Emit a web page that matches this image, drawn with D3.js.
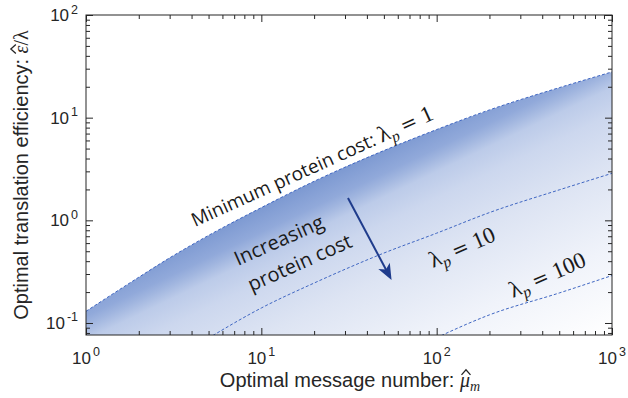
<!DOCTYPE html>
<html><head><meta charset="utf-8">
<script src="https://cdn.jsdelivr.net/npm/d3@7"></script>
<style>
html,body{margin:0;padding:0;background:#fff;}
svg{display:block;}
</style></head><body>
<svg id="chart" width="628" height="398"></svg>
<script>
// ---- data ----
const mu      = [1, 2, 3, 5, 10, 20, 50, 100, 200, 500, 1000];
const effLp1  = [0.130, 0.279, 0.431, 0.713, 1.33, 2.40, 4.78, 7.66, 11.9, 19.6, 27.9];
const muLp10  = [5, 10, 20, 50, 100, 200, 500, 1000];
const effLp10 = [0.0713, 0.140, 0.245, 0.48, 0.75, 1.19, 1.98, 2.87];
const muLp100  = [100, 200, 500, 1000];
const effLp100 = [0.072, 0.12, 0.196, 0.29];
const xMajorTicks = [1, 10, 100, 1000];
const xTickExps   = ["0", "1", "2", "3"];
const yMajorTicks = [0.1, 1, 10, 100];
const yTickExps   = ["-1", "0", "1", "2"];
const arrowFrom = [31.2, 1.65];
const arrowTo   = [55.3, 0.262];

const svg = d3.select("#chart");
const L = 86, R = 612, T = 15, B = 335;
const x = d3.scaleLog().domain([1, 1000]).range([L, R]);
const y = d3.scaleLog().domain([0.0764, 100]).range([B, T]);

const defs = svg.append("defs");
defs.append("clipPath").attr("id", "plotClip")
  .append("rect").attr("x", L).attr("y", T).attr("width", R - L).attr("height", B - T);

const grad = defs.append("linearGradient").attr("id", "fillGrad")
  .attr("gradientUnits", "userSpaceOnUse")
  .attr("x1", 129).attr("y1", 272).attr("x2", 244).attr("y2", 512);
[[0, "#7e9ad2"], [0.08, "#91a9da"], [0.11, "#a0b5df"], [0.16, "#bccbe9"], [0.25, "#ccd7ee"],
 [0.43, "#dde4f3"], [0.7, "#f0f3fa"], [1, "#ffffff"]].forEach(([o, c]) =>
  grad.append("stop").attr("offset", o).attr("stop-color", c));

const plot = svg.append("g").attr("clip-path", "url(#plotClip)");

const d1 = mu.map((m, i) => [m, effLp1[i]]);
const d10 = muLp10.map((m, i) => [m, effLp10[i]]);
const d100 = muLp100.map((m, i) => [m, effLp100[i]]);

const area = d3.area().x(d => x(d[0])).y0(B + 5).y1(d => y(d[1])).curve(d3.curveMonotoneX);
plot.append("path").datum(d1).attr("d", area).attr("fill", "url(#fillGrad)");

const line = d3.line().x(d => x(d[0])).y(d => y(d[1])).curve(d3.curveMonotoneX);
[d1, d10, d100].forEach(d => {
  plot.append("path").datum(d).attr("d", line)
    .attr("fill", "none").attr("stroke", "#3f66c2").attr("stroke-width", 1)
    .attr("stroke-dasharray", "3,2");
});

// ---- axes ----
const axisColor = "#262626";
function styleAxis(g) {
  g.select(".domain").remove();
  g.selectAll("line").attr("stroke", axisColor).attr("stroke-width", 1);
}
const xMinor = x.ticks().filter(v => !xMajorTicks.includes(v));
const yMinor = y.ticks().filter(v => !yMajorTicks.some(t => Math.abs(t - v) < 1e-9));

svg.append("g").attr("transform", `translate(0,${B})`)
  .call(d3.axisBottom(x).tickValues(xMajorTicks).tickSize(-7).tickFormat("")).call(styleAxis);
svg.append("g").attr("transform", `translate(0,${B})`)
  .call(d3.axisBottom(x).tickValues(xMinor).tickSize(-4).tickFormat("")).call(styleAxis);
svg.append("g").attr("transform", `translate(0,${T})`)
  .call(d3.axisTop(x).tickValues(xMajorTicks).tickSize(-7).tickFormat("")).call(styleAxis);
svg.append("g").attr("transform", `translate(0,${T})`)
  .call(d3.axisTop(x).tickValues(xMinor).tickSize(-4).tickFormat("")).call(styleAxis);
svg.append("g").attr("transform", `translate(${L},0)`)
  .call(d3.axisLeft(y).tickValues(yMajorTicks).tickSize(-7).tickFormat("")).call(styleAxis);
svg.append("g").attr("transform", `translate(${L},0)`)
  .call(d3.axisLeft(y).tickValues(yMinor).tickSize(-4).tickFormat("")).call(styleAxis);
svg.append("g").attr("transform", `translate(${R},0)`)
  .call(d3.axisRight(y).tickValues(yMajorTicks).tickSize(-7).tickFormat("")).call(styleAxis);
svg.append("g").attr("transform", `translate(${R},0)`)
  .call(d3.axisRight(y).tickValues(yMinor).tickSize(-4).tickFormat("")).call(styleAxis);

svg.append("rect").attr("x", L).attr("y", T).attr("width", R - L).attr("height", B - T)
  .attr("fill", "none").attr("stroke", axisColor).attr("stroke-width", 1);

const sans = "'Liberation Sans', Arial, Helvetica, sans-serif";
xMajorTicks.forEach((v, i) => {
  const t = svg.append("text").attr("x", x(v)).attr("y", 364).attr("text-anchor", "middle")
    .attr("font-family", sans).attr("fill", axisColor);
  t.append("tspan").attr("font-size", 17).text("10");
  t.append("tspan").attr("font-size", 12.5).attr("dy", -8).attr("dx", 2).text(xTickExps[i]);
});
yMajorTicks.forEach((v, i) => {
  const t = svg.append("text").attr("x", 78).attr("y", y(v) + 6).attr("text-anchor", "end")
    .attr("font-family", sans).attr("fill", axisColor);
  t.append("tspan").attr("font-size", 17).text("10");
  t.append("tspan").attr("font-size", 12.5).attr("dy", -7.5).attr("dx", 2).text(yTickExps[i]);
});

// hat helper: draws a circumflex accent over character idx of a text node, inside group g
function addHat(g, textSel, idx, shift) {
  const e = textSel.node().getExtentOfChar(idx);
  const cx = e.x + e.width / 2 + (shift || 0);
  const top = e.y + e.height * 0.22;
  g.append("path")
    .attr("d", `M${cx - 4.5},${top + 1} L${cx},${top - 4} L${cx + 4.5},${top + 1}`)
    .attr("fill", "none").attr("stroke", axisColor).attr("stroke-width", 1.3);
}

// axis labels
const serif = "'Liberation Serif', 'Times New Roman', serif";
const xg = svg.append("g");
const xl = xg.append("text").attr("x", 350).attr("y", 387).attr("text-anchor", "middle")
  .attr("font-family", sans).attr("font-size", 20).attr("fill", axisColor);
const xlPre = "Optimal message number: ";
xl.append("tspan").text(xlPre);
xl.append("tspan").attr("font-family", serif).attr("font-style", "italic").text("\u03BC");
xl.append("tspan").attr("font-family", serif).attr("font-style", "italic").attr("font-size", 14).attr("dy", 4).text("m");
addHat(xg, xl, xlPre.length, 1);

const yg = svg.append("g").attr("transform", "translate(28,175) rotate(-90)");
const yl = yg.append("text").attr("text-anchor", "middle")
  .attr("font-family", sans).attr("font-size", 20).attr("fill", axisColor);
const ylPre = "Optimal translation efficiency: ";
yl.append("tspan").text(ylPre);
yl.append("tspan").attr("font-family", serif).attr("font-style", "italic").text("\u03B5");
yl.append("tspan").attr("font-family", serif).text("/\u03BB");
addHat(yg, yl, ylPre.length, 0.5);

// ---- annotations ----
const ann = "'Open Sans', 'Noto Sans', sans-serif";
const txtColor = "#1a1a1a";
function mathLabel(g, sub, val) {
  g.append("tspan").attr("font-family", serif).attr("font-size", 23).text("\u03BB");
  g.append("tspan").attr("font-family", serif).attr("font-style", "italic").attr("font-size", 16).attr("dy", 5).text(sub);
  g.append("tspan").attr("font-family", "'DejaVu Serif', serif").attr("font-size", 20).attr("dy", -5).attr("dx", 5).text("=");
  g.append("tspan").attr("font-family", serif).attr("font-size", 23).attr("dx", 6).text(val);
}
const a1 = svg.append("text").attr("transform", "translate(195,227) rotate(-24.3)")
  .attr("font-family", ann).attr("font-size", 18.9).attr("fill", txtColor);
a1.append("tspan").text("Minimum protein cost: ");
mathLabel(a1, "p", "1");

const a2 = svg.append("text").attr("transform", "translate(433,268) rotate(-23.5)").attr("fill", txtColor);
mathLabel(a2, "p", "10");
const a3 = svg.append("text").attr("transform", "translate(513,298) rotate(-23.5)").attr("fill", txtColor);
mathLabel(a3, "p", "100");

const inc = svg.append("text").attr("transform", "translate(238,266) rotate(-24)")
  .attr("font-family", ann).attr("font-size", 20).attr("fill", txtColor);
inc.append("tspan").attr("x", 0).attr("y", 0).text("Increasing");
inc.append("tspan").attr("x", 2).attr("y", 29).text("protein cost");

// arrow
const ax0 = x(arrowFrom[0]), ay0 = y(arrowFrom[1]), ax1 = x(arrowTo[0]), ay1 = y(arrowTo[1]);
const ang = Math.atan2(ay1 - ay0, ax1 - ax0);
const hl = 16, hw = 6.5;
const ux = Math.cos(ang), uy = Math.sin(ang);
const bx = ax1 - ux * hl, by = ay1 - uy * hl;
svg.append("line").attr("x1", ax0).attr("y1", ay0).attr("x2", ax1 - ux * 8).attr("y2", ay1 - uy * 8)
  .attr("stroke", "#1f3c8c").attr("stroke-width", 2);
svg.append("path").attr("d",
  `M${ax1},${ay1} L${bx - uy * hw},${by + ux * hw} L${ax1 - ux * 12},${ay1 - uy * 12} L${bx + uy * hw},${by - ux * hw} Z`)
  .attr("fill", "#1f3c8c");
</script>
</body></html>
